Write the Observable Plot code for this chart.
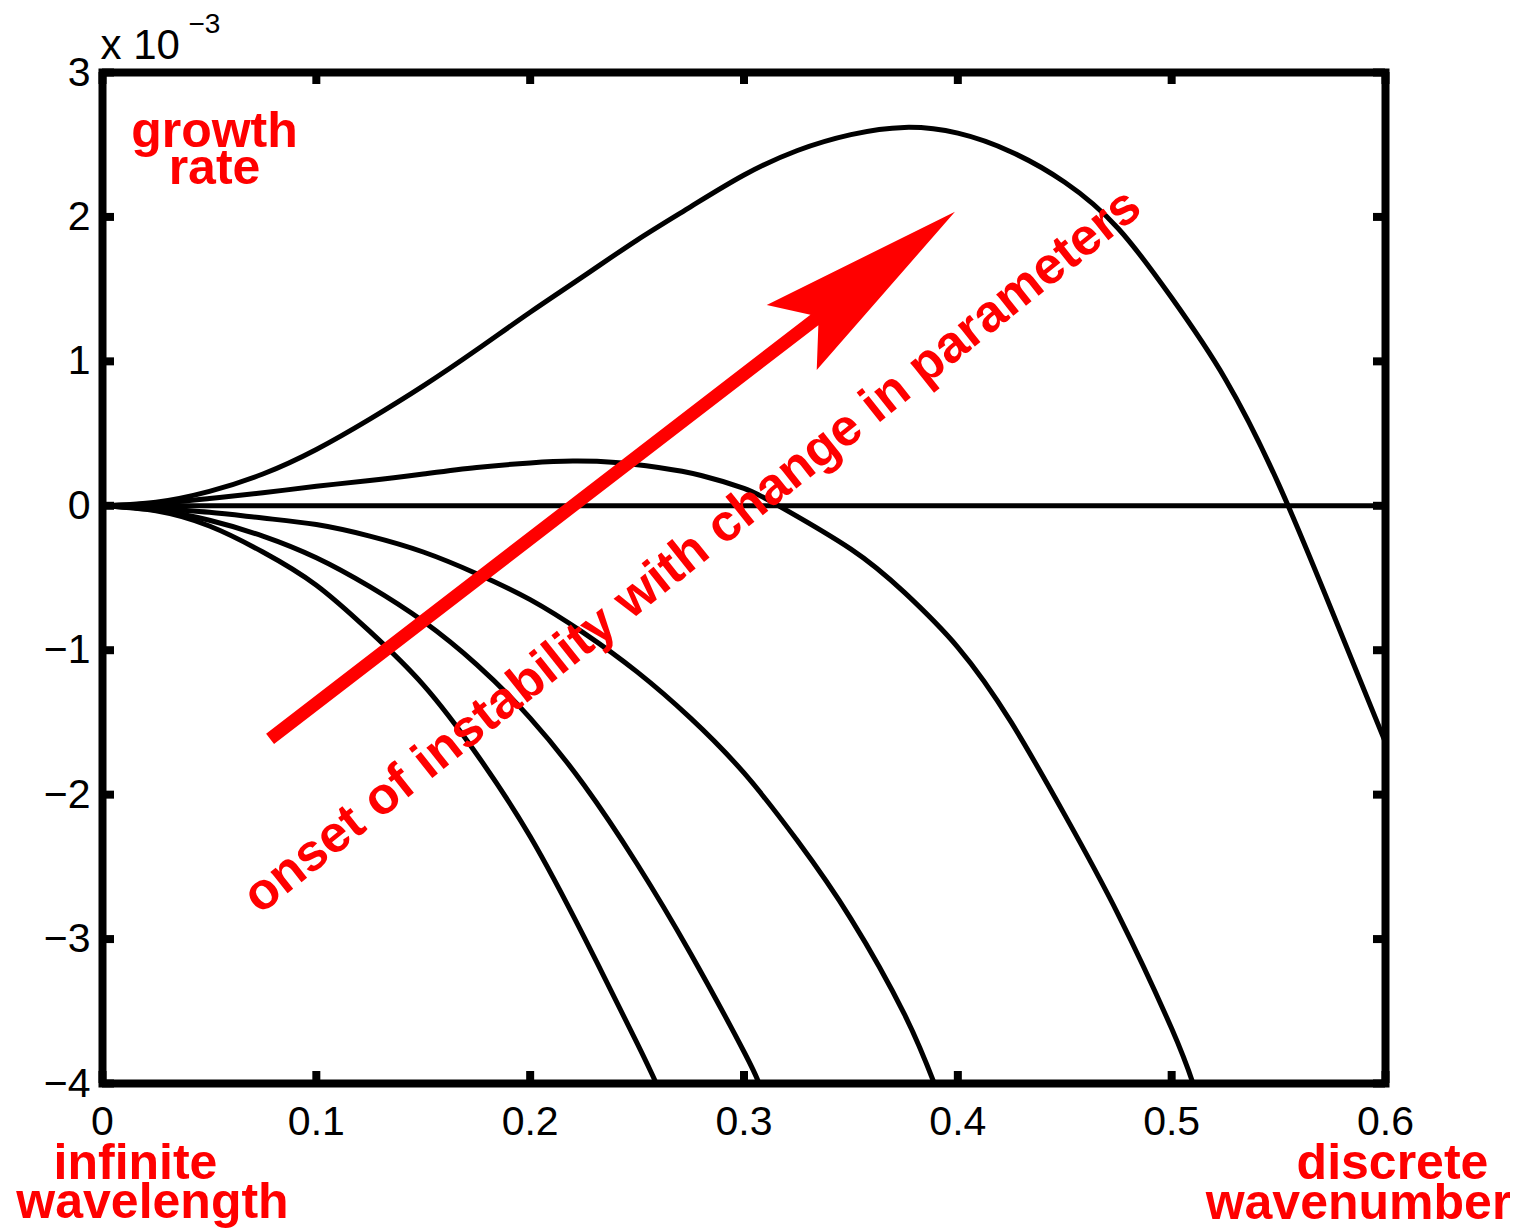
<!DOCTYPE html>
<html>
<head>
<meta charset="utf-8">
<script src="https://cdn.jsdelivr.net/npm/d3@7"></script>
<script src="https://cdn.jsdelivr.net/npm/@observablehq/plot@0.6"></script>
<style>
  body { margin: 0; background: #fff; }
  #chart { width: 1510px; height: 1229px; overflow: hidden; }
</style>
</head>
<body>
<div id="chart"></div>
<script>
// Growth rate (units of 1e-3) versus wavenumber for a family of parameter values.
const wavenumberA = [0, 0.025, 0.05, 0.075, 0.1, 0.125, 0.15, 0.175, 0.2, 0.225, 0.25, 0.275, 0.3, 0.325, 0.35, 0.375, 0.4, 0.425, 0.45, 0.475, 0.5, 0.525, 0.55, 0.575, 0.6];
const growthA     = [0, 0.025, 0.10, 0.22, 0.39, 0.60, 0.83, 1.08, 1.34, 1.59, 1.84, 2.07, 2.29, 2.46, 2.57, 2.62, 2.58, 2.45, 2.24, 1.92, 1.44, 0.88, 0.15, -0.73, -1.64];

const wavenumberB = [0, 0.025, 0.05, 0.075, 0.1, 0.125, 0.15, 0.175, 0.2, 0.22, 0.24, 0.26, 0.28, 0.3, 0.315, 0.35, 0.375, 0.4, 0.425, 0.45, 0.475, 0.5, 0.51];
const growthB     = [0, 0.015, 0.05, 0.09, 0.135, 0.175, 0.22, 0.265, 0.297, 0.31, 0.30, 0.265, 0.21, 0.12, 0.01, -0.30, -0.60, -0.98, -1.50, -2.14, -2.83, -3.62, -4.0];

const wavenumberC = [0, 0.025, 0.05, 0.075, 0.1, 0.125, 0.15, 0.175, 0.2, 0.225, 0.25, 0.275, 0.3, 0.325, 0.35, 0.375, 0.389];
const growthC     = [0, -0.02, -0.045, -0.085, -0.13, -0.21, -0.32, -0.47, -0.65, -0.88, -1.15, -1.47, -1.85, -2.32, -2.86, -3.52, -4.0];

const wavenumberD = [0, 0.025, 0.05, 0.075, 0.1, 0.125, 0.15, 0.175, 0.2, 0.225, 0.25, 0.275, 0.3, 0.307];
const growthD     = [0, -0.03, -0.10, -0.21, -0.36, -0.56, -0.80, -1.10, -1.47, -1.93, -2.48, -3.10, -3.78, -4.0];

const wavenumberE = [0, 0.025, 0.05, 0.075, 0.1, 0.125, 0.15, 0.175, 0.2, 0.225, 0.25, 0.259];
const growthE     = [0, -0.035, -0.14, -0.32, -0.55, -0.87, -1.24, -1.72, -2.29, -2.98, -3.72, -4.0];

const xTickValues = [0, 0.1, 0.2, 0.3, 0.4, 0.5, 0.6];
const xTickLabels = ["0", "0.1", "0.2", "0.3", "0.4", "0.5", "0.6"];
const yTickValues = [-4, -3, -2, -1, 0, 1, 2, 3];
const yTickLabels = ["\u22124", "\u22123", "\u22122", "\u22121", "0", "1", "2", "3"];

// Annotation arrow: tail and tip in data units
const arrowData = [{k1: 0.0786, g1: -1.617, k2: 0.3989, g2: 2.032}];
const arrowCaption = "onset of instability with change in parameters";

const series = [
  ["A", wavenumberA, growthA],
  ["B", wavenumberB, growthB],
  ["C", wavenumberC, growthC],
  ["D", wavenumberD, growthD],
  ["E", wavenumberE, growthE]
];
const rows = series.flatMap(([name, ks, gs]) => ks.map((k, i) => ({curve: name, k, g: gs[i]})));

const W = 1521, H = 1229;
const mL = 102, mR = 136, mT = 72, mB = 146;
const frameW = W - mL - mR, frameH = H - mT - mB;
const tickLen = 12;
const font = "Liberation Sans, Arial, Helvetica, sans-serif";
const red = "#ff0000";

// Filled arrow with a notched head, drawn in screen space from the data endpoints
function arrowMark(index, scales) {
  const g = d3.create("svg:g");
  const sx = scales.x, sy = scales.y;
  for (const a of arrowData) {
    const x1 = sx(a.k1), y1 = sy(a.g1), x2 = sx(a.k2), y2 = sy(a.g2);
    const dx = x2 - x1, dy = y2 - y1, len = Math.hypot(dx, dy);
    const ux = dx / len, uy = dy / len, nx = -uy, ny = ux;
    const headLen = 206, headHalf = 41, notch = 172, shaftHalf = 6.5;
    const join = notch + (headLen - notch) * shaftHalf / headHalf;
    const P = (back, side) => [x2 - ux * back + nx * side, y2 - uy * back + ny * side];
    const pts = [
      [x1 + nx * shaftHalf, y1 + ny * shaftHalf],
      P(join, shaftHalf),
      P(headLen, headHalf),
      [x2, y2],
      P(headLen, -headHalf),
      P(join, -shaftHalf),
      [x1 - nx * shaftHalf, y1 - ny * shaftHalf]
    ];
    g.append("path")
      .attr("d", "M" + pts.map(p => p.join(",")).join("L") + "Z")
      .attr("fill", red);
  }
  return g.node();
}

const label = (txt, anchor, dx, dy) => Plot.text([txt], {
  frameAnchor: anchor, text: d => d, textAnchor: "middle", lineAnchor: "bottom",
  dx, dy, fontSize: 50, fontWeight: "bold", fill: red, fontFamily: font
});

const chart = Plot.plot({
  width: W,
  height: H,
  marginLeft: mL,
  marginRight: mR,
  marginTop: mT,
  marginBottom: mB,
  style: {fontFamily: font, background: "#fff", maxWidth: "none", overflow: "visible"},
  x: {domain: [0, 0.6], axis: null},
  y: {domain: [-4, 3], axis: null},
  marks: [
    Plot.ruleY([0], {stroke: "black", strokeWidth: 5}),
    Plot.line(rows, {x: "k", y: "g", z: "curve", curve: "natural", stroke: "black", strokeWidth: 5, clip: true}),
    arrowMark,
    Plot.text([arrowCaption], {
      x: 0.2755, y: -0.31, text: d => d, rotate: -38.5,
      fontSize: 52, fontWeight: "bold", fill: red, fontFamily: font
    }),
    // inward ticks on all four sides
    Plot.tickX(xTickValues, {x: d => d, insetTop: frameH - tickLen, stroke: "black", strokeWidth: 8}),
    Plot.tickX(xTickValues, {x: d => d, insetBottom: frameH - tickLen, stroke: "black", strokeWidth: 8}),
    Plot.tickY(yTickValues, {y: d => d, insetRight: frameW - tickLen, stroke: "black", strokeWidth: 8}),
    Plot.tickY(yTickValues, {y: d => d, insetLeft: frameW - tickLen, stroke: "black", strokeWidth: 8}),
    Plot.frame({stroke: "black", strokeWidth: 8}),
    // tick labels
    Plot.text(xTickValues, {
      x: d => d, frameAnchor: "bottom", text: (d, i) => xTickLabels[i],
      lineAnchor: "top", dy: 22, fontSize: 41, fill: "black", fontFamily: font
    }),
    Plot.text(yTickValues, {
      y: d => d, frameAnchor: "left", text: (d, i) => yTickLabels[i],
      textAnchor: "end", dx: -12, fontSize: 41, fill: "black", fontFamily: font
    }),
    // exponent of the y scale
    Plot.text(["x 10"], {frameAnchor: "top-left", text: d => d, textAnchor: "start", lineAnchor: "bottom", dx: -2, dy: -14, fontSize: 42, fill: "black", fontFamily: font}),
    Plot.text(["\u22123"], {frameAnchor: "top-left", text: d => d, textAnchor: "start", lineAnchor: "bottom", dx: 86, dy: -40, fontSize: 28, fill: "black", fontFamily: font}),
    // axis annotations
    label("growth", "top-left", 112, 74),
    label("rate", "top-left", 112, 111),
    label("infinite", "bottom-left", 33, 95),
    label("wavelength", "bottom-left", 50, 134),
    label("discrete", "bottom-right", 7, 95),
    label("wavenumber", "bottom-right", -27, 135)
  ]
});

document.getElementById("chart").append(chart);
</script>
</body>
</html>
